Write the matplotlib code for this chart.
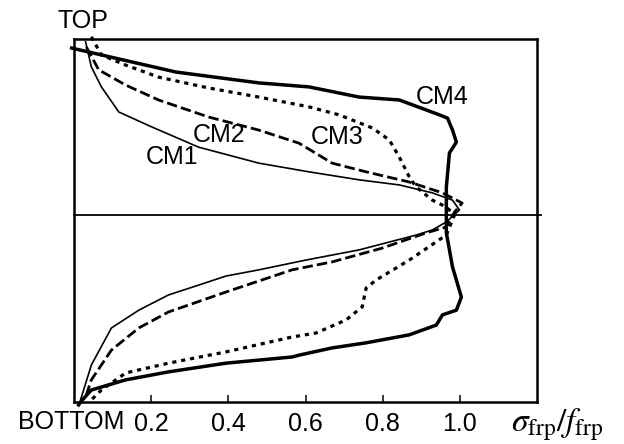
import matplotlib

matplotlib.use("Agg")
from matplotlib import pyplot as plt

# stress ratio (x) vs relative height over the section (y, 0 = bottom, 1 = top)
cm1_x = [0.030, 0.045, 0.071, 0.116, 0.201, 0.323, 0.479, 0.609, 0.739, 0.843, 0.929, 0.981, 0.999, 0.965,
         0.929, 0.887, 0.739, 0.601, 0.479, 0.394, 0.323, 0.245, 0.168, 0.097, 0.045, 0.017]
cm1_y = [0.992, 0.923, 0.868, 0.799, 0.758, 0.702, 0.658, 0.634, 0.612, 0.598, 0.576, 0.556, 0.529, 0.496,
         0.474, 0.460, 0.419, 0.391, 0.364, 0.347, 0.322, 0.295, 0.253, 0.204, 0.102, 0.006]

cm2_x = [0.032, 0.064, 0.134, 0.219, 0.349, 0.479, 0.583, 0.669, 0.757, 0.869, 0.955, 1.006, 0.986,
         0.965, 0.913, 0.799, 0.669, 0.565, 0.394, 0.245, 0.168, 0.097, 0.045, 0.030]
cm2_y = [0.978, 0.915, 0.873, 0.832, 0.785, 0.749, 0.713, 0.658, 0.634, 0.606, 0.576, 0.548, 0.523,
         0.482, 0.466, 0.424, 0.386, 0.364, 0.303, 0.248, 0.204, 0.143, 0.061, 0.014]

cm3_x = [0.045, 0.071, 0.134, 0.219, 0.349, 0.479, 0.609, 0.687, 0.773, 0.817, 0.843, 0.869, 0.887, 0.929,
         0.965, 0.986, 0.965, 0.869, 0.783, 0.757, 0.747, 0.705, 0.627, 0.565, 0.394, 0.245, 0.134, 0.071, 0.045]
cm3_y = [1.006, 0.956, 0.928, 0.895, 0.865, 0.840, 0.813, 0.791, 0.755, 0.722, 0.675, 0.620, 0.592, 0.556,
         0.537, 0.515, 0.460, 0.391, 0.336, 0.314, 0.262, 0.226, 0.190, 0.179, 0.138, 0.107, 0.080, 0.033, 0.006]

cm4_x = [-0.006, 0.116, 0.264, 0.479, 0.609, 0.739, 0.843, 0.947, 0.968, 0.981, 0.991, 0.973, 0.965, 0.965,
         0.965, 0.965, 0.981, 1.004, 0.991, 0.955, 0.939, 0.869, 0.757, 0.669, 0.583, 0.565, 0.394, 0.245,
         0.134, 0.045, 0.017, 0.012]
cm4_y = [0.975, 0.945, 0.909, 0.879, 0.868, 0.840, 0.832, 0.791, 0.782, 0.749, 0.716, 0.686, 0.592, 0.537,
         0.515, 0.466, 0.372, 0.289, 0.253, 0.240, 0.212, 0.185, 0.163, 0.149, 0.129, 0.124, 0.107, 0.083,
         0.061, 0.033, 0.000, -0.008]

x_ticks = [0.2, 0.4, 0.6, 0.8, 1.0]
x_tick_labels = ["0.2", "0.4", "0.6", "0.8", "1.0"]
neutral_y = 0.515

plt.rcParams["font.family"] = ["Liberation Sans", "DejaVu Sans"]
plt.rcParams["mathtext.fontset"] = "stix"
plt.rcParams["lines.scale_dashes"] = False

fig = plt.figure(figsize=(6.24, 4.44), dpi=100)
ax = fig.add_axes([0.1186, 0.0946, 0.742, 0.8176])

ax.plot(cm1_x, cm1_y, color="black", linewidth=1.2, clip_on=False)
ax.plot(cm2_x, cm2_y, color="black", linewidth=2.0, linestyle=(0, (7.5, 3.0)), clip_on=False)
ax.plot(cm3_x, cm3_y, color="black", linewidth=2.3, linestyle=(0, (3.0, 3.5)), clip_on=False)
ax.plot(cm4_x, cm4_y, color="black", linewidth=2.5, clip_on=False)

ax.plot([0.0, 1.21], [neutral_y, neutral_y], color="black", linewidth=1.3, clip_on=False)

ax.set_xlim(0.0, 1.2)
ax.set_ylim(0.0, 1.0)
ax.set_xticks(x_ticks)
ax.set_xticklabels(x_tick_labels)
ax.set_yticks([])
ax.tick_params(axis="x", direction="in", length=5, width=1.1, pad=7, labelsize=18)
for spine in ax.spines.values():
    spine.set_linewidth(1.8)

label_kw = dict(fontsize=18, ha="center", va="center")
ax.text(0.255, 0.675, "CM1", **label_kw)
ax.text(0.375, 0.735, "CM2", **label_kw)
ax.text(0.682, 0.730, "CM3", **label_kw)
ax.text(0.953, 0.840, "CM4", **label_kw)

fig.text(83 / 624, 1 - 21 / 444, "TOP", **label_kw)
fig.text(71 / 624, 1 - 422 / 444, "BOTTOM", **label_kw)
fig.text(557 / 624, 1 - 425 / 444, r"$\sigma_{\rm frp}/f_{\rm frp}$", fontsize=24, ha="center", va="center")

fig.savefig("out.png", dpi=100)
